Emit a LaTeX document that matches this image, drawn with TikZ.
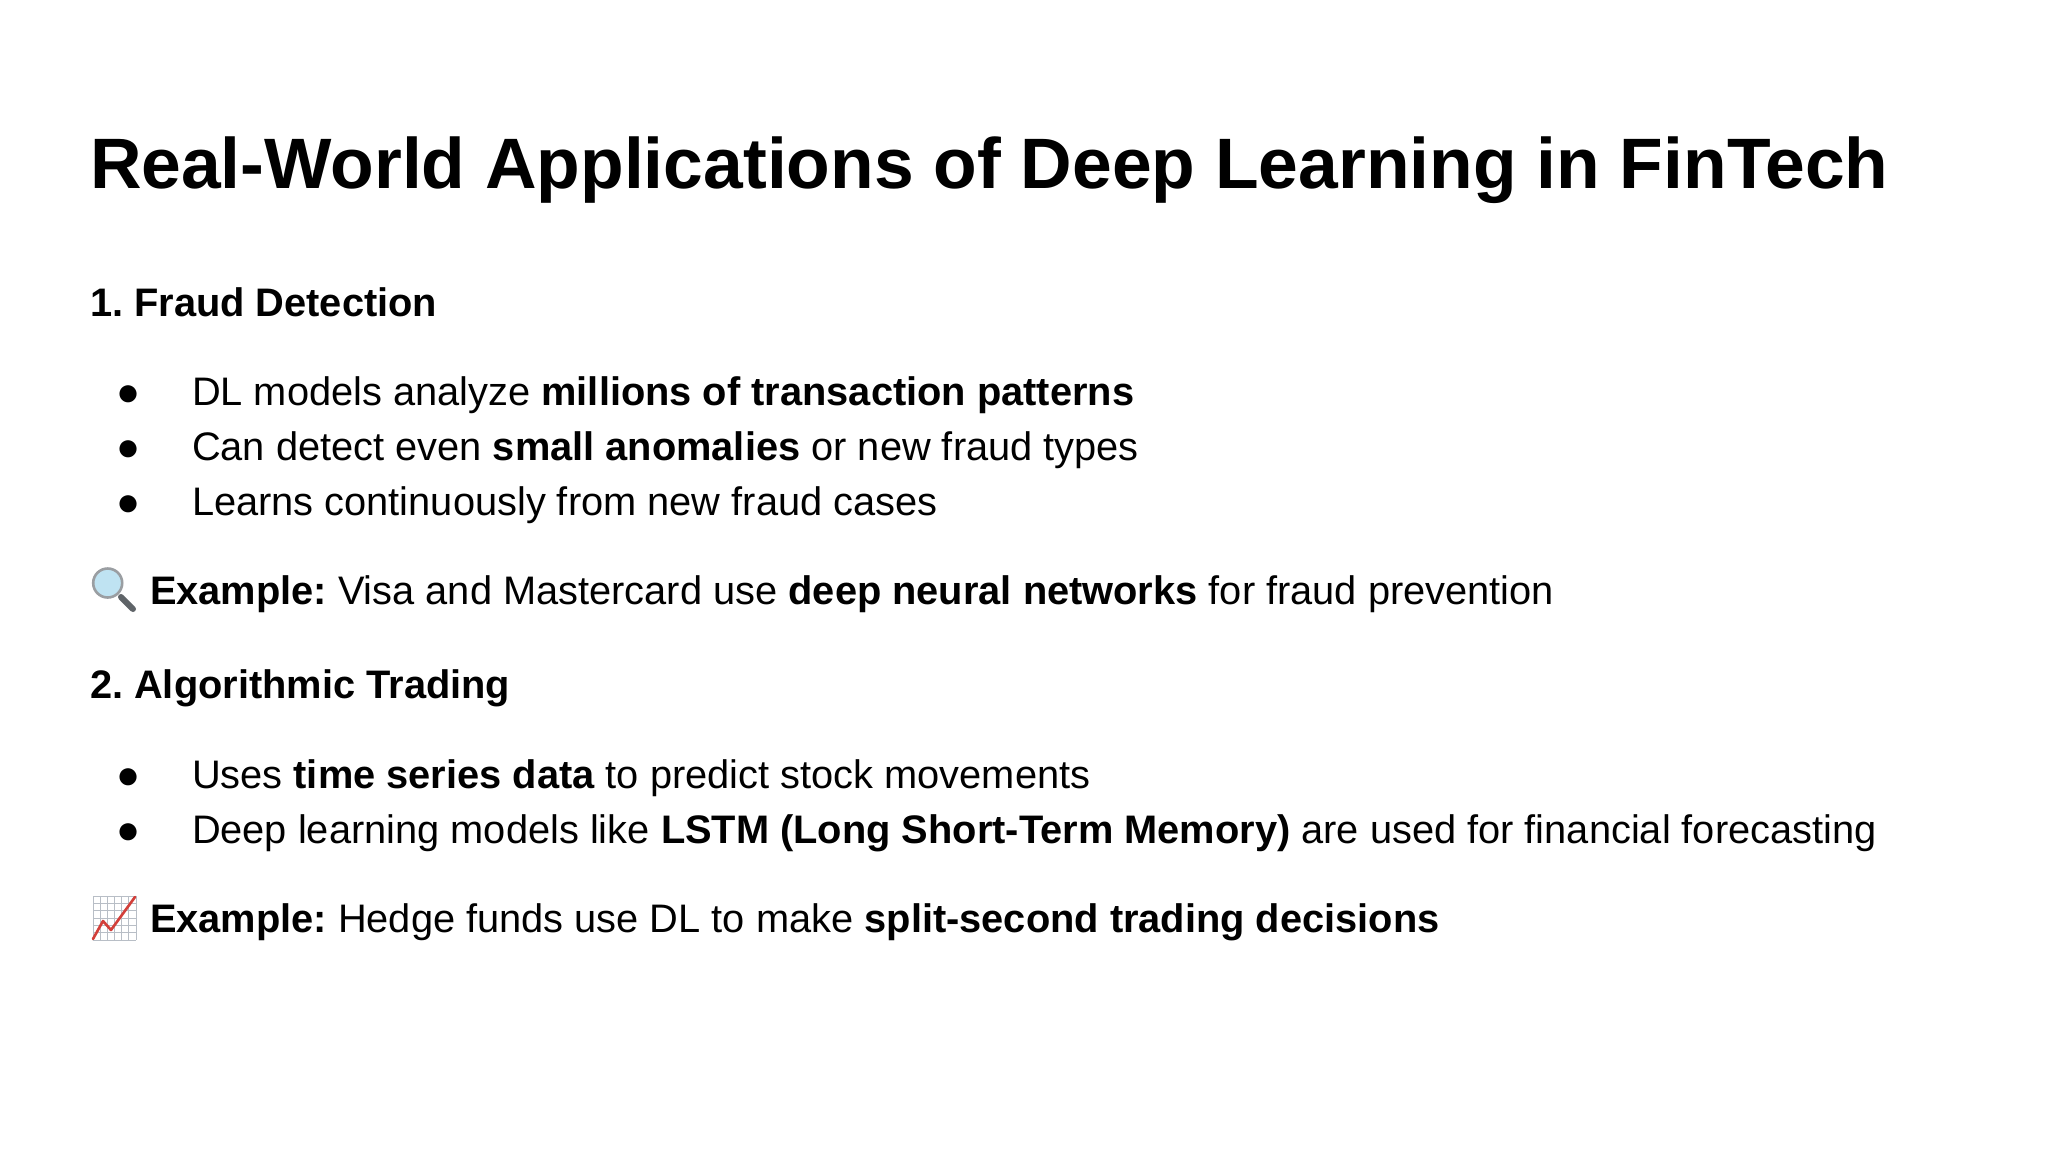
\documentclass[tikz,border=0pt]{standalone}
\usepackage{fontspec}
\setmainfont{Liberation Sans}
\frenchspacing
\definecolor{lensblue}{HTML}{BFE3F2}
\definecolor{rim}{HTML}{9A9EA2}
\definecolor{handle}{HTML}{5F6468}
\definecolor{gridline}{HTML}{B8BEC6}
\definecolor{chartred}{HTML}{D23F3A}
\tikzset{
  txt/.style={anchor=base west,inner sep=0pt,outer sep=0pt,text=black,font=\fontsize{19.9}{24}\selectfont},
  head/.style={txt,font=\fontsize{19.9}{24}\selectfont\bfseries},
  ttl/.style={txt,font=\fontsize{35.7}{42}\selectfont\bfseries},
  bul/.style={anchor=base,inner sep=0pt,outer sep=0pt,text=black,font=\fontsize{19.9}{24}\selectfont}
}
\begin{document}
\begin{tikzpicture}[x=0.5pt,y=-0.5pt]
\useasboundingbox (0,0) rectangle (2048,1152);
\fill[white] (0,0) rectangle (2048,1152);
\node[ttl] (title) at (90,188) {Real-World Applications of Deep Learning in FinTech};
\node[head] (h1) at (90,316) {1. Fraud Detection};
\node[bul] (b1) at (129,405) {●};
\node[txt] (t1) at (192,405) {DL models analyze \textbf{millions of transaction patterns}};
\node[bul] (b2) at (129,460) {●};
\node[txt] (t2) at (192,460) {Can detect even \textbf{small anomalies} or new fraud types};
\node[bul] (b3) at (129,515) {●};
\node[txt] (t3) at (192,515) {Learns continuously from new fraud cases};
\node[txt] (e1) at (150,604) {\textbf{Example:} Visa and Mastercard use \textbf{deep neural networks} for fraud prevention};
\node[head] (h2) at (90,698) {2. Algorithmic Trading};
\node[bul] (b4) at (129,788) {●};
\node[txt] (t4) at (192,788) {Uses \textbf{time series data} to predict stock movements};
\node[bul] (b5) at (129,843) {●};
\node[txt] (t5) at (192,843) {Deep learning models like \textbf{LSTM (Long Short-Term Memory)} are used for financial forecasting};
\node[txt] (e2) at (150,932) {\textbf{Example:} Hedge funds use DL to make \textbf{split-second trading decisions}};
% magnifier icon
\draw[line width=3pt,line cap=round,color=handle] (121,597) -- (133,609);
\draw[line width=1.3pt,color=rim,fill=lensblue] (107.7,583) circle (14.5);
% chart icon
\fill[white] (93,896) rectangle (136,940);
\foreach \v in {0,1,2,3,4,5,6}{
  \draw[line width=0.4pt,color=gridline] (93+\v*7.17,896) -- (93+\v*7.17,940);
  \draw[line width=0.4pt,color=gridline] (93,896+\v*7.33) -- (136,896+\v*7.33);
}
\draw[line width=1.3pt,color=chartred,line cap=round,line join=round] (93,939) -- (103,921) -- (111,930) -- (135,897);
\end{tikzpicture}
\end{document}
